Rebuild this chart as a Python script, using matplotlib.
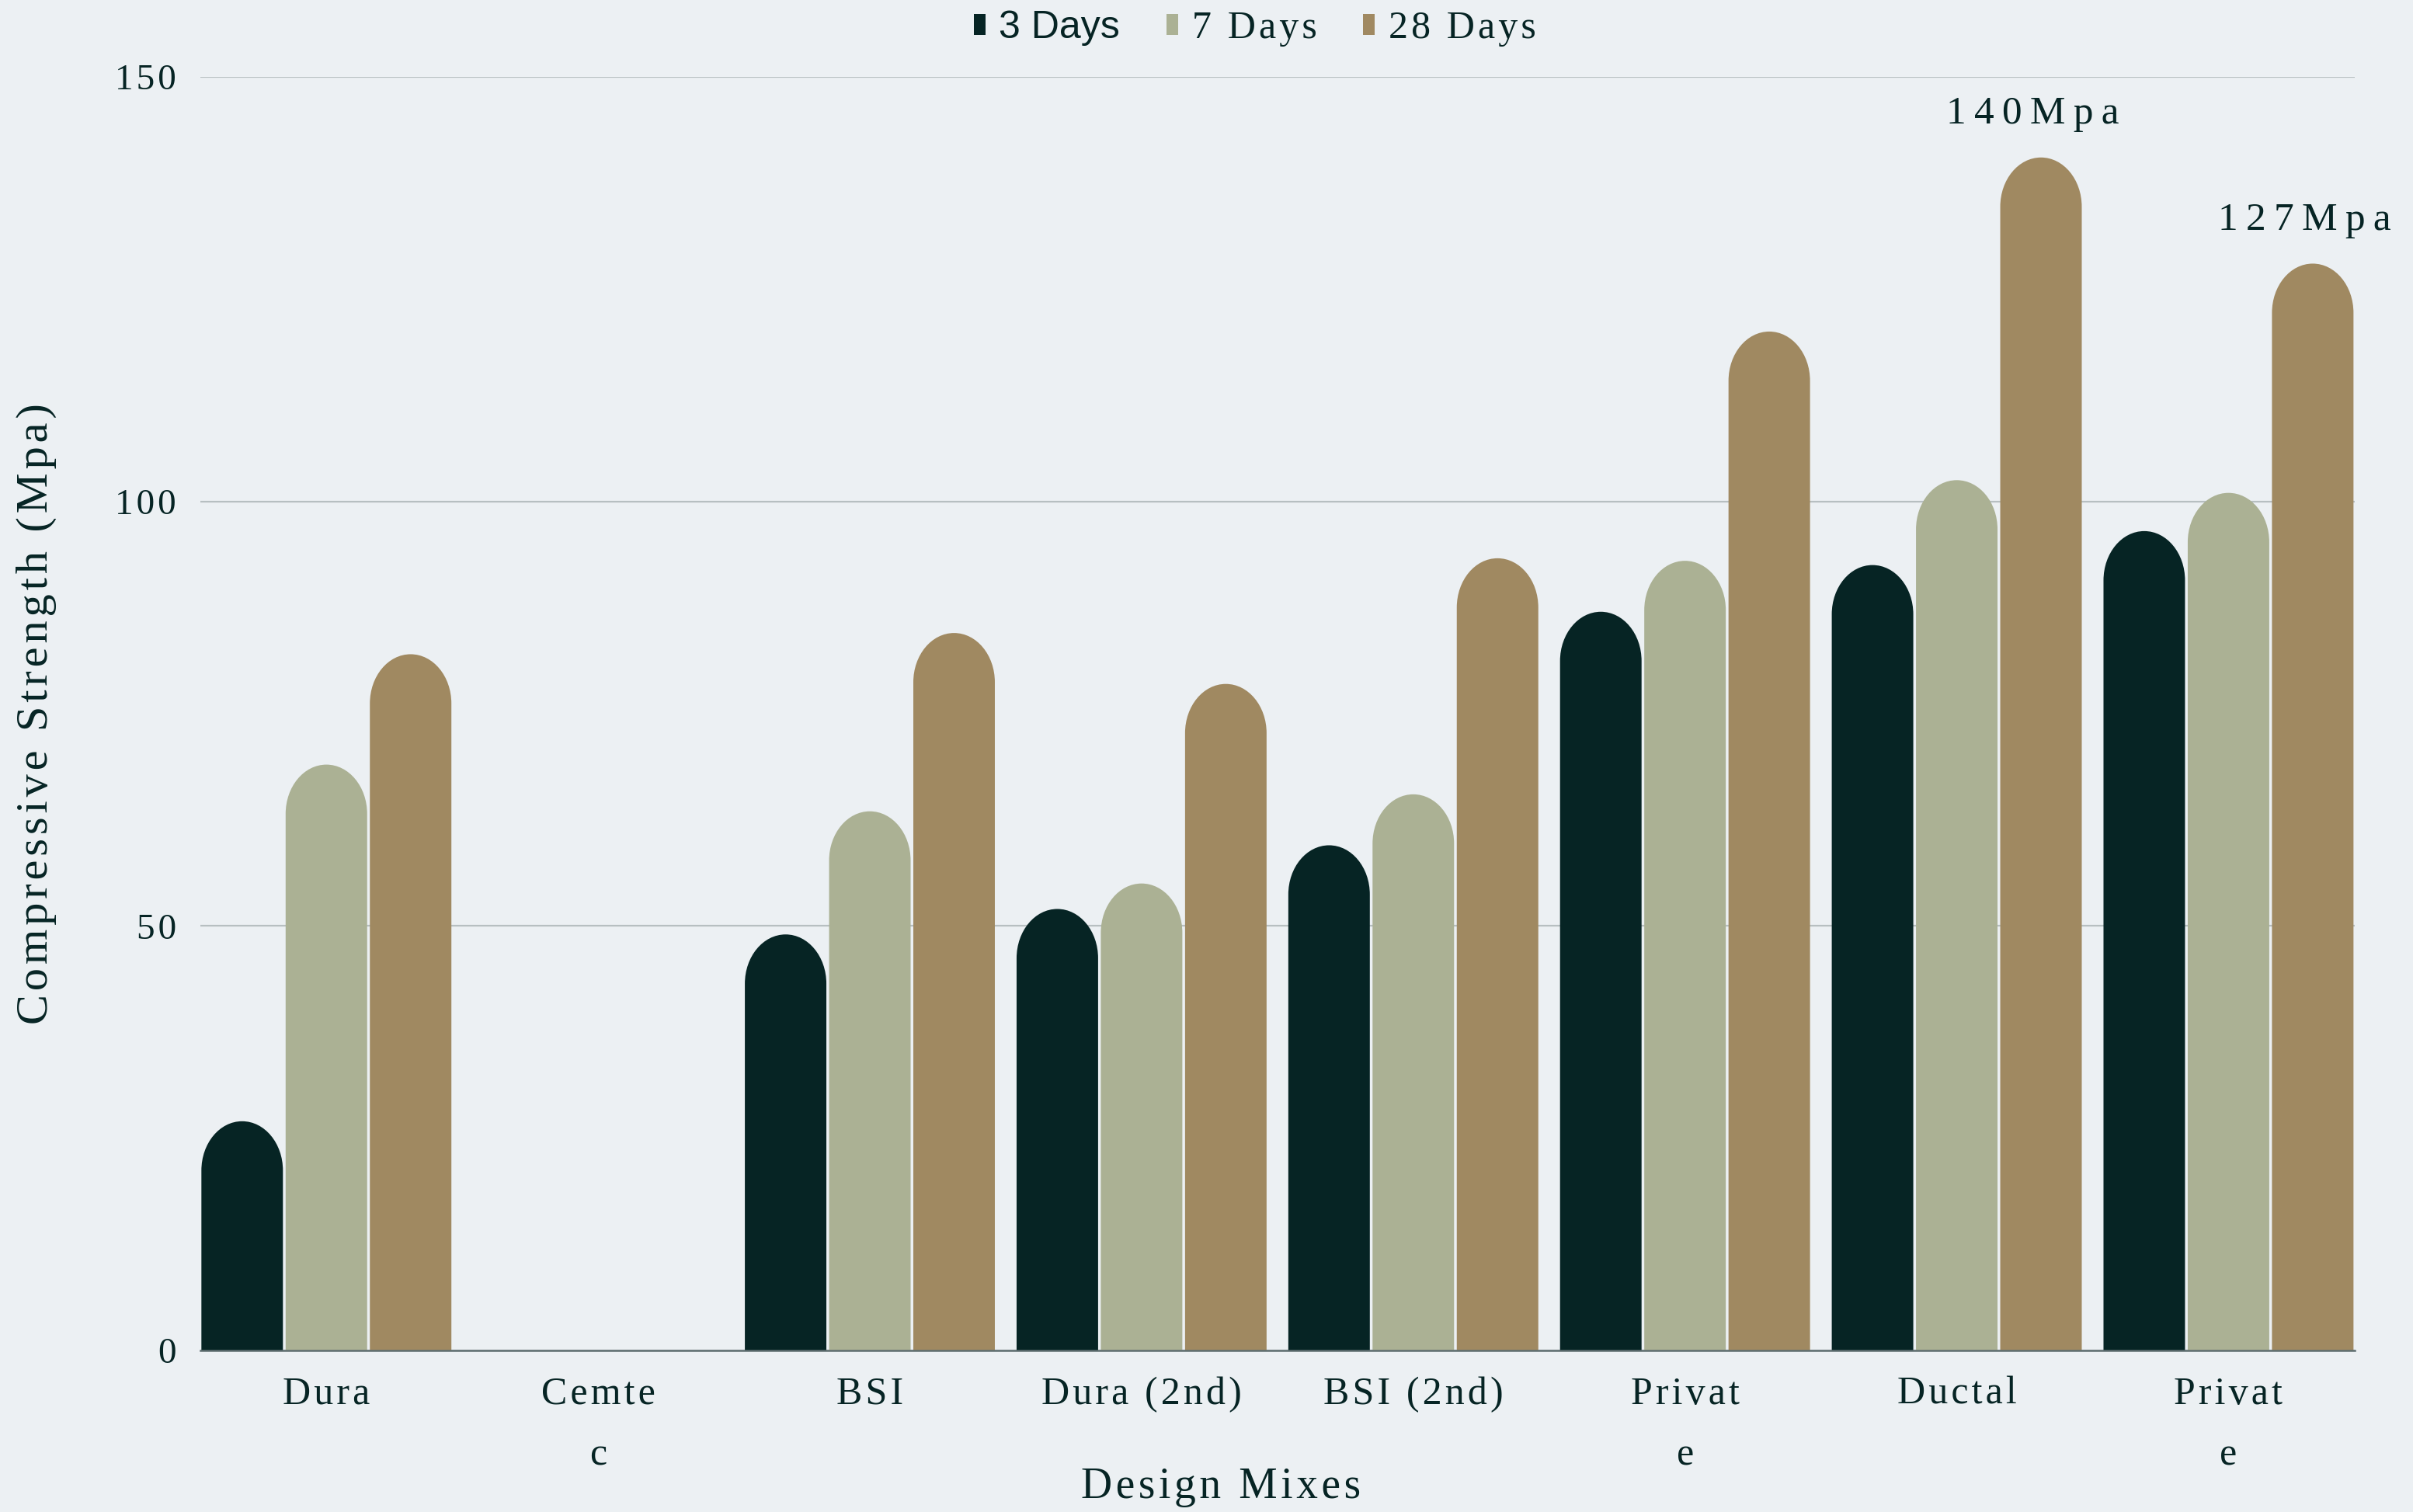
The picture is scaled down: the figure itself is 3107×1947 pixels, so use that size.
import numpy as np
import matplotlib
matplotlib.use("Agg")
import matplotlib.pyplot as plt
from matplotlib.path import Path
from matplotlib.patches import PathPatch, Patch

# --- data ---
mixes = ["Dura", "Cemte\nc", "BSI", "Dura (2nd)", "BSI (2nd)", "Privat\ne", "Ductal", "Privat\ne"]
series_names = ["3 Days", "7 Days", "28 Days"]
days_3 = [27, 0, 49, 52, 59.5, 87, 92.5, 96.5]
days_7 = [69, 0, 63.5, 55, 65.5, 93, 102.5, 101]
days_28 = [82, 0, 84.5, 78.5, 93.3, 120, 140.5, 128]
callouts = {6: "140Mpa", 7: "127Mpa"}

BG = "#ECF0F3"
INK = "#062424"
COLORS = ["#062424", "#ABB194", "#A08961"]
SERIF = ["Liberation Serif", "DejaVu Serif"]
HAIR = "\u200a"


def spaced(s: str, sep: str = HAIR) -> str:
    """Fake letter spacing with hair spaces."""
    return "\n".join(sep.join(list(line)) for line in s.split("\n"))


def _rounded_bar(x0, width, height, cap):
    """Path for a bar with an elliptical top cap (data units)."""
    k = 0.5523
    x1 = x0 + width
    xc = x0 + width / 2
    hw = width / 2
    cap = min(cap, height)
    yb = height - cap
    verts = [
        (x0, 0), (x0, yb),
        (x0, yb + k * cap), (xc - k * hw, height), (xc, height),
        (xc + k * hw, height), (x1, yb + k * cap), (x1, yb),
        (x1, 0), (x0, 0),
    ]
    codes = [Path.MOVETO, Path.LINETO,
             Path.CURVE4, Path.CURVE4, Path.CURVE4,
             Path.CURVE4, Path.CURVE4, Path.CURVE4,
             Path.LINETO, Path.CLOSEPOLY]
    return Path(verts, codes)


fig = plt.figure(figsize=(31.07, 19.47), dpi=100, facecolor=BG)
ax = fig.add_axes([0.0829, 0.1068, 0.8930, 0.8424], facecolor=BG)

x = np.arange(len(mixes))
w = 0.30
offsets = [-0.31, 0.0, 0.31]
cap_h = 5.8

for vals, off, col in zip([days_3, days_7, days_28], offsets, COLORS):
    bars = ax.bar(x + off, vals, width=w, color=col, zorder=3)
    for rect in bars:
        rect.set_visible(False)
        h = rect.get_height()
        if h <= 0:
            continue
        p = _rounded_bar(rect.get_x(), rect.get_width(), h, cap_h)
        ax.add_patch(PathPatch(p, facecolor=col, edgecolor="none", zorder=3))

# callouts above the 28-day bars
for i, txt in callouts.items():
    ax.text(x[i] + offsets[2] - 0.03, days_28[i] + 3.0, spaced(txt, "\u2009"), ha="center", va="bottom",
            fontsize=37, color=INK, family=SERIF)

ax.set_xlim(-0.465, 7.465)
ax.set_ylim(0, 150)
ax.set_yticks([0, 50, 100, 150])
ax.set_yticklabels([spaced(str(t)) for t in [0, 50, 100, 150]], family=SERIF, fontsize=34, color=INK)
ax.set_xticks(x)
ax.set_xticklabels([spaced(m) for m in mixes], family=SERIF, fontsize=36, color=INK, linespacing=1.9)
ax.tick_params(axis="both", length=0)
ax.tick_params(axis="x", pad=24)
ax.tick_params(axis="y", pad=22)

ax.grid(axis="y", color="#B7BFC1", linewidth=1.6, zorder=0)
ax.set_axisbelow(True)
for side in ["top", "right", "left"]:
    ax.spines[side].set_visible(False)
ax.spines["bottom"].set_color("#5E6E70")
ax.spines["bottom"].set_linewidth(1.8)
ax.spines["bottom"].set_zorder(4)

ax.set_xlabel(spaced("Design Mixes"), family=SERIF, fontsize=40, color=INK, va="center")
ax.xaxis.set_label_coords(0.4736, -0.1075)
ax.set_ylabel(spaced("Compressive Strength (Mpa)"), family=SERIF, fontsize=42, color=INK, va="center")
ax.yaxis.set_label_coords(-0.076, 0.5)

handles = [Patch(facecolor=c, edgecolor="none") for c in COLORS]
labels = [series_names[0]] + [spaced(s) for s in series_names[1:]]
leg = fig.legend(handles, labels, loc="center", bbox_to_anchor=(0.52, 0.981), ncol=3, frameon=False,
                 fontsize=36, handlelength=0.3, handleheight=0.45, handletextpad=0.35,
                 columnspacing=1.2, labelcolor=INK)
for i, t in enumerate(leg.get_texts()):
    if i == 0:
        t.set_family(["Liberation Sans", "DejaVu Sans"])
    else:
        t.set_family(SERIF)

fig.savefig("out.png", dpi=100, facecolor=BG)
